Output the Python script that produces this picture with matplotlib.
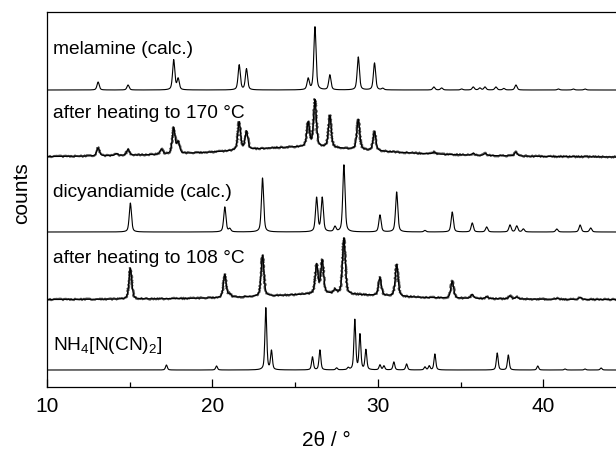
import numpy as np
import matplotlib
matplotlib.use("Agg")
import matplotlib.pyplot as plt

plt.rcParams['font.family'] = ['Liberation Sans', 'DejaVu Sans']
plt.rcParams['mathtext.fontset'] = 'custom'
plt.rcParams['mathtext.rm'] = 'Liberation Sans'
plt.rcParams['mathtext.it'] = 'Liberation Sans:italic'

# sample names, top to bottom
labels = ["melamine (calc.)", "after heating to 170 \u00b0C", "dicyandiamide (calc.)",
          "after heating to 108 \u00b0C", r"NH$_4$[N(CN)$_2$]"]

# vertical offset of each pattern (arbitrary counts)
offsets = [297, 229, 155, 87, 17]

# reflections: 2theta positions and heights
melamine_pos = [13.09, 14.9, 17.66, 17.93, 21.62, 22.06, 25.79, 26.2, 27.1, 28.82, 29.8, 30.3,
                33.39, 33.86, 35.07, 35.77, 36.17, 36.48, 37.14, 37.62, 38.35, 40.92, 41.82, 42.53]
melamine_h = [8, 5, 30, 11, 25, 21, 11, 63, 15, 33, 27, 1.5,
              3, 2, 1, 3, 2, 3, 3, 1.5, 5, 1, 1, 1]

heat170_pos = [13.09, 14.2, 14.9, 16.92, 17.66, 17.93, 21.62, 22.06, 25.79, 26.2, 27.1, 28.82,
               29.8, 33.4, 35.77, 36.5, 38.35]
heat170_h = [8, 2, 6, 5, 26, 11, 28, 18, 24, 47, 32, 30, 19, 2, 2, 2, 4]
heat170_hump = (25.5, 11, 6.0)  # centre, height, half width of amorphous background

dicy_pos = [15.04, 20.75, 21.05, 23.03, 26.3, 26.64, 27.41, 27.95, 30.13, 31.14, 32.85,
            34.5, 35.71, 36.58, 37.99, 38.4, 38.8, 40.82, 42.23, 42.87]
dicy_h = [29, 25, 3, 54, 34, 34, 5, 67, 17, 40, 1.5, 20, 9, 5, 7, 6, 3, 3, 7, 4]

heat108_pos = [15.04, 20.75, 21.05, 23.03, 26.3, 26.64, 27.41, 27.95, 30.13, 31.14, 34.5,
               35.71, 36.58, 37.99, 38.4, 40.82, 42.23]
heat108_h = [31, 23, 3, 41, 29, 33, 4, 56, 18, 32, 17, 4, 2, 3, 2, 1, 2]
heat108_hump = (27.0, 6, 5.0)

nh4_pos = [17.22, 20.25, 23.23, 23.57, 26.05, 26.5, 27.51, 28.21, 28.61, 28.92, 29.28, 30.13,
           30.37, 30.97, 31.74, 32.85, 33.11, 33.45, 37.22, 37.89, 39.67, 41.32, 42.53, 43.5]
nh4_h = [5, 4, 62, 19, 13, 20, 2, 2, 50, 35, 20, 5, 4, 8, 6, 3, 4, 16, 17, 15, 4, 1, 1, 2]

peaks = [(melamine_pos, melamine_h), (heat170_pos, heat170_h), (dicy_pos, dicy_h),
         (heat108_pos, heat108_h), (nh4_pos, nh4_h)]
humps = [None, heat170_hump, None, heat108_hump, None]
widths = [0.16, 0.2, 0.16, 0.2, 0.13]
measured = [False, True, False, True, False]

# label baselines (same units as offsets)
label_y = [333, 269, 190, 124, 37]

two_theta = np.arange(10, 45, 0.01)


def profile(x, pos, h, fwhm):
    # pseudo-Voigt line shape
    y = np.zeros_like(x)
    for c, a in zip(pos, h):
        d = (x - c) / (fwhm / 2)
        y += a * (0.5 / (1 + d ** 2) + 0.5 * np.exp(-np.log(2) * d ** 2))
    return y


fig = plt.figure(figsize=(6.16, 4.5), dpi=100)
ax = fig.add_axes([47 / 616, 63 / 450, 1 - 47 / 616, 375 / 450])

for i in range(len(labels)):
    pos, h = peaks[i]
    y = offsets[i] + profile(two_theta, pos, h, widths[i])
    if humps[i] is not None:
        c, a, w = humps[i]
        y = y + a / (1 + ((two_theta - c) / w) ** 2)
    if measured[i]:
        # measured data: a rough grey band under the black line
        band, = ax.plot(two_theta, y, color='#555555', lw=1.3)
        band.set_sketch_params(scale=0.9, length=1.0, randomness=2)
        ax.plot(two_theta, y, color='black', lw=0.9)
    else:
        ax.plot(two_theta, y, color='black', lw=0.8)
    ax.text(10.35, label_y[i], labels[i], fontsize=13.8, va='baseline', ha='left')

ax.set_xlim(10, 44.4)
ax.set_ylim(0, 375)
ax.set_xticks([10, 20, 30, 40])
ax.set_xticks([15, 25, 35], minor=True)
ax.tick_params(axis='x', which='major', direction='in', length=6, width=0.9,
               labelsize=15, pad=7, top=False)
ax.tick_params(axis='x', which='minor', direction='in', length=3.5, width=0.9, top=False)
ax.set_yticks([])
ax.spines['right'].set_visible(False)
for s in ['left', 'top', 'bottom']:
    ax.spines[s].set_linewidth(0.9)

ax.set_xlabel("2\u03b8 / \u00b0", fontsize=15)
ax.xaxis.set_label_coords((326 - 47) / (616 - 47), -(440 - 387) / 375)
ax.set_ylabel("counts", fontsize=15)
ax.yaxis.set_label_coords(-(47 - 22) / (616 - 47), (387 - 193) / 375)
ax.xaxis.label.set_va('center')
ax.yaxis.label.set_va('center')

plt.savefig("out.png", dpi=100)
